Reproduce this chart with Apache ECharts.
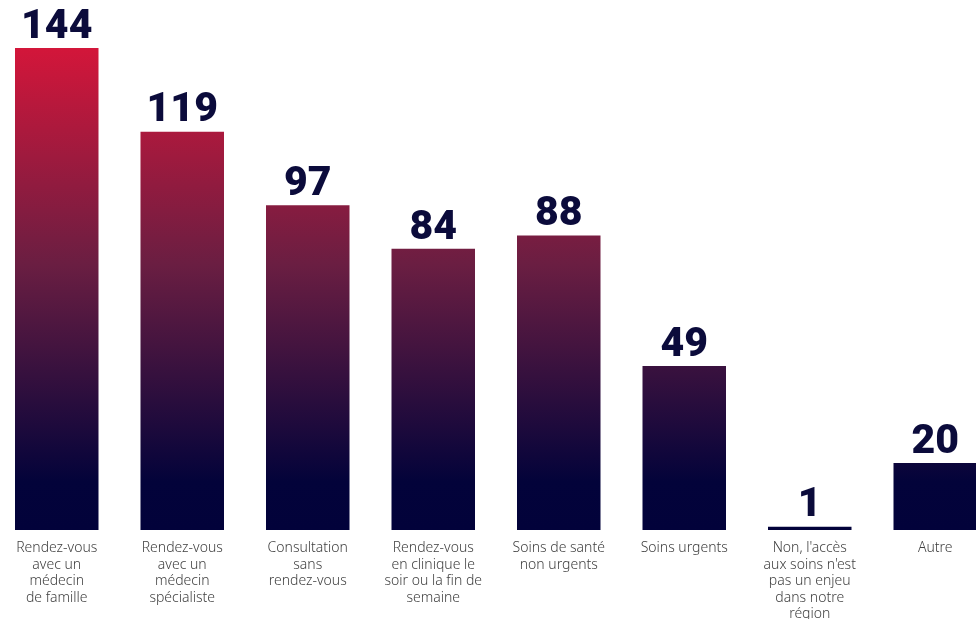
<!DOCTYPE html>
<html>
<head>
<meta charset="utf-8">
<style>
  html, body { margin: 0; padding: 0; background: #ffffff; }
  #chart { width: 976px; height: 619px; }
</style>
<script src="https://cdn.jsdelivr.net/npm/echarts@6/dist/echarts.min.js"></script>
</head>
<body>
<div id="chart"></div>
<script>
// Motifs cités pour l'accès aux soins
const categories = [
  "Rendez-vous\navec un\nmédecin\nde famille",
  "Rendez-vous\navec un\nmédecin\nspécialiste",
  "Consultation\nsans\nrendez-vous",
  "Rendez-vous\nen clinique le\nsoir ou la fin de\nsemaine",
  "Soins de santé\nnon urgents",
  "Soins urgents",
  "Non, l'accès\naux soins n'est\npas un enjeu\ndans notre\nrégion",
  "Autre"
];
const counts = [144, 119, 97, 84, 88, 49, 1, 20];

const chart = echarts.init(document.getElementById('chart'), null, { renderer: 'canvas' });

// Dégradé commun à toutes les barres, en coordonnées de la zone de tracé
const barGradient = new echarts.graphic.LinearGradient(0, 48, 0, 530, [
  { offset: 0, color: '#d3163a' },
  { offset: 0.45, color: '#6a1e42' },
  { offset: 0.9, color: '#03033a' },
  { offset: 1, color: '#02023a' }
], true);

chart.setOption({
  animation: false,
  grid: { left: -6, top: 48, width: 1004, bottom: 89, outerBoundsMode: 'none' },
  xAxis: {
    type: 'category',
    data: categories,
    axisLine: { show: false },
    axisTick: { show: false },
    axisLabel: {
      interval: 0,
      margin: 10,
      color: '#404040',
      fontFamily: 'Noto Sans',
      fontWeight: 300,
      fontSize: 14,
      lineHeight: 16.5,
      align: 'center'
    }
  },
  yAxis: {
    type: 'value',
    min: 0,
    max: 144,
    show: false,
    splitLine: { show: false }
  },
  series: [{
    type: 'bar',
    data: counts,
    barWidth: 83.5,
    itemStyle: { color: barGradient },
    label: {
      show: true,
      position: 'top',
      distance: 0,
      color: '#0b0b3b',
      fontFamily: 'Roboto',
      fontWeight: 900,
      fontSize: 41
    }
  }]
});
</script>
</body>
</html>
